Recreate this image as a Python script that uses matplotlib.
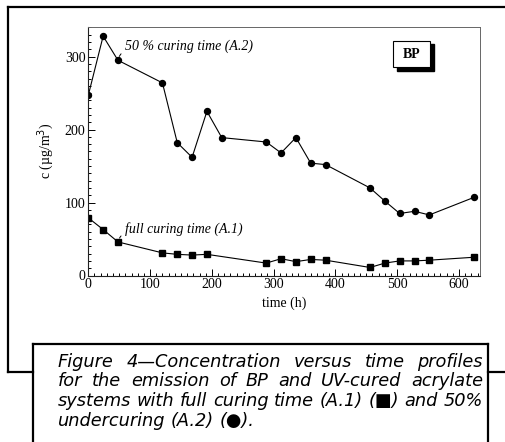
import matplotlib
matplotlib.use("Agg")
from matplotlib import pyplot as plt
from matplotlib.lines import Line2D
from matplotlib.patches import Rectangle
from matplotlib.ticker import MultipleLocator

# time points (h)
t_a2 = [0, 24, 48, 120, 144, 168, 192, 216, 288, 312, 336, 360, 384, 456, 480, 504, 528, 552, 624]
c_a2 = [247, 328, 295, 264, 182, 162, 225, 189, 183, 168, 189, 154, 152, 120, 102, 85, 88, 83, 107]

t_a1 = [0, 24, 48, 120, 144, 168, 192, 288, 312, 336, 360, 384, 456, 480, 504, 528, 552, 624]
c_a1 = [79, 63, 46, 31, 29, 28, 29, 17, 23, 19, 22, 21, 11, 17, 20, 20, 21, 25]

label_a2 = "50 % curing time (A.2)"
label_a1 = "full curing time (A.1)"
caption = ["Figure 4\u2014Concentration versus time profiles",
           "for the emission of BP and UV-cured acrylate",
           "systems with full curing time (A.1) (\u25a0) and 50%",
           "undercuring (A.2) (\u25cf)."]

W, H = 505, 442
fig = plt.figure(figsize=(W/100, H/100), dpi=100)
serif = "Liberation Serif"

def px(x, y):
  return x/W, 1 - y/H

ax = fig.add_axes([88.3/W, 1-275.5/H, (480-88.3)/W, (275.5-26.7)/H])
ax.plot(t_a2, c_a2, "-o", color="black", lw=0.8, ms=4.3)
ax.plot(t_a1, c_a1, "-s", color="black", lw=0.8, ms=3.8)
ax.set_xlim(0, 634)
ax.set_ylim(0, 341)
ax.xaxis.set_major_locator(MultipleLocator(100))
ax.xaxis.set_minor_locator(MultipleLocator(10))
ax.yaxis.set_major_locator(MultipleLocator(100))
ax.yaxis.set_minor_locator(MultipleLocator(10))
ax.tick_params(which="both", direction="in", width=0.7, labelsize=10, pad=2)
ax.tick_params(which="major", length=5)
ax.tick_params(which="minor", length=2.5)
for lab in ax.get_xticklabels() + ax.get_yticklabels():
  lab.set_fontfamily(serif)
for s in ["left", "bottom"]:
  ax.spines[s].set_color("#222222")
  ax.spines[s].set_linewidth(0.8)
for s in ["top", "right"]:
  ax.spines[s].set_color("#666666")
  ax.spines[s].set_linewidth(0.7)

ax.set_xlabel("time (h)", fontfamily=serif, fontsize=10, labelpad=4)
ax.set_ylabel("c (\u00b5g/m$^3$)", fontfamily=serif, fontsize=10, labelpad=6)

ax.annotate(label_a2, xy=(t_a2[2], c_a2[2]), xytext=(59, 309), ha="left", va="baseline",
            fontfamily=serif, style="italic", fontsize=10,
            arrowprops=dict(arrowstyle="-", lw=0.7, color="black", relpos=(0, 0.2),
                            shrinkA=1, shrinkB=3, connectionstyle="arc3,rad=0.2"))
ax.annotate(label_a1, xy=(t_a1[2], c_a1[2]), xytext=(59, 59), ha="left", va="baseline",
            fontfamily=serif, style="italic", fontsize=10,
            arrowprops=dict(arrowstyle="-", lw=0.7, color="black", relpos=(0, 0.2),
                            shrinkA=1, shrinkB=3, connectionstyle="arc3,rad=0.2"))

# BP box with shadow
fig.add_artist(Rectangle(px(397, 70.5), 37/W, 26/H, transform=fig.transFigure,
                         facecolor="black", edgecolor="black"))
fig.add_artist(Rectangle(px(393, 67), 37/W, 26/H, transform=fig.transFigure,
                         facecolor="white", edgecolor="black", lw=0.8))
fig.text(*px(411.5, 54), "BP", fontfamily=serif, fontweight="bold", fontsize=10,
         ha="center", va="center")

# outer frame
frame = [((8, 7), (505, 7)), ((8, 7), (8, 372)), ((8, 372), (33, 372)), ((488, 372), (505, 372)),
         ((33, 344), (488, 344)), ((33, 344), (33, 442)), ((488, 344), (488, 442))]
for (x0, y0), (x1, y1) in frame:
  a = px(x0, y0); b = px(x1, y1)
  fig.add_artist(Line2D([a[0], b[0]], [a[1], b[1]], transform=fig.transFigure,
                        color="black", lw=1.6, solid_capstyle="projecting"))

# justified caption
fig.canvas.draw()
r = fig.canvas.get_renderer()
left, right = 58, 483
base = [367, 386.5, 406, 425.5]
cap_font = dict(fontfamily="DejaVu Sans", style="italic", ha="left", va="baseline")

def width_of(s, size):
  t = fig.text(0, 0, s, fontsize=size, **cap_font)
  w = t.get_window_extent(r).width
  t.remove()
  return w

# pick a size so the justified lines fit with at least a normal space
size = min(10 * (right - left) / width_of(l, 10) for l in caption[:-1])
space = width_of("a a", size) - width_of("aa", size)
for i, line in enumerate(caption):
  words = line.split(" ")
  arts = [fig.text(0, 0, w, fontsize=size, **cap_font) for w in words]
  widths = [a.get_window_extent(r).width for a in arts]
  if i < len(caption) - 1:
    gap = (right - left - sum(widths)) / (len(words) - 1)
  else:
    gap = space
  x = left
  for a, w in zip(arts, widths):
    a.set_position(px(x, base[i]))
    x += w + gap

fig.savefig("out.png", dpi=100)
